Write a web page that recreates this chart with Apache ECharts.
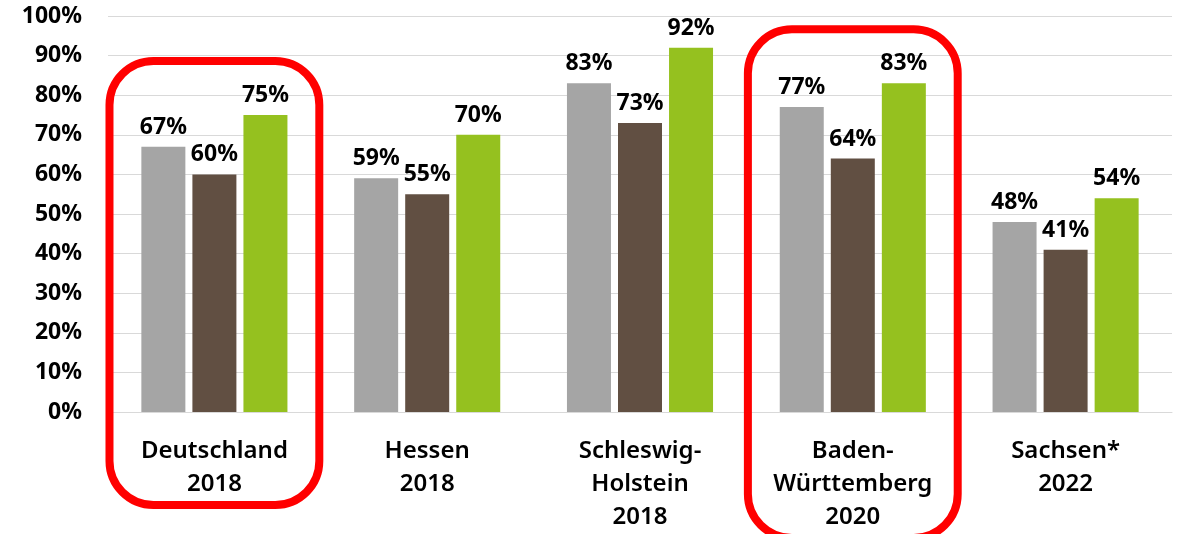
<!DOCTYPE html>
<html>
<head>
<meta charset="utf-8">
<script src="https://cdn.jsdelivr.net/npm/echarts@6/dist/echarts.min.js"></script>
<style>
html,body{margin:0;padding:0;background:#fff;}
#c{width:1179px;height:534px;}
</style>
</head>
<body>
<div id="c"></div>
<script>
const categories = ['Deutschland\n2018', 'Hessen\n2018', 'Schleswig-\nHolstein\n2018', 'Baden-\nWürttemberg\n2020', 'Sachsen*\n2022'];
const seriesGray = [67, 59, 83, 77, 48];
const seriesBrown = [60, 55, 73, 64, 41];
const seriesGreen = [75, 70, 92, 83, 54];
const yTicks = [0, 10, 20, 30, 40, 50, 60, 70, 80, 90, 100];
const highlighted = [0, 3];

const chart = echarts.init(document.getElementById('c'), null, {renderer: 'canvas'});
const labelStyle = {
  show: true, position: 'top', distance: 8,
  formatter: p => p.value + '%',
  fontFamily: 'Noto Sans', fontWeight: 'bold', fontSize: 23, color: '#000'
};
function mk(name, data, color) {
  return {
    name, type: 'bar', data, barWidth: 44, barGap: '16%',
    itemStyle: {color},
    label: labelStyle
  };
}
chart.setOption({
  animation: false,
  grid: {left: 108, right: 7, top: 16, bottom: 115, containLabel: false},
  xAxis: {
    type: 'category', data: categories,
    axisLine: {show: true, lineStyle: {color: '#D9D9D9', width: 1}},
    axisTick: {show: false},
    axisLabel: {
      interval: 0, margin: 23, lineHeight: 33,
      fontFamily: 'Noto Sans', fontWeight: 600, fontSize: 24, color: '#000'
    }
  },
  yAxis: {
    type: 'value', min: yTicks[0], max: yTicks[yTicks.length - 1], interval: 10,
    axisLine: {show: false}, axisTick: {show: false},
    splitLine: {lineStyle: {color: '#D9D9D9', width: 1}},
    axisLabel: {
      margin: 26, formatter: v => v + '%',
      fontFamily: 'Noto Sans', fontWeight: 'bold', fontSize: 23, color: '#000'
    }
  },
  series: [
    mk('A', seriesGray, '#A5A5A5'),
    mk('B', seriesBrown, '#614F42'),
    mk('C', seriesGreen, '#95C11F')
  ]
});

// red rounded frames around highlighted categories
const p0 = chart.convertToPixel({xAxisIndex: 0, yAxisIndex: 0}, [0, 0]);
const p1 = chart.convertToPixel({xAxisIndex: 0, yAxisIndex: 0}, [1, 0]);
const band = p1[0] - p0[0];
const graphics = highlighted.map(i => {
  const maxV = Math.max(seriesGray[i], seriesBrown[i], seriesGreen[i]);
  const c = chart.convertToPixel({xAxisIndex: 0, yAxisIndex: 0}, [i, maxV]);
  const base = chart.convertToPixel({xAxisIndex: 0, yAxisIndex: 0}, [i, 0]);
  const lines = categories[i].split('\n').length;
  const half = band * 0.493;
  const top = c[1] - 54;
  const bottom = base[1] + 93 + (lines - 2) * 33;
  return {
    type: 'rect', z: 100,
    shape: {x: c[0] - half, y: top, width: half * 2, height: bottom - top, r: 44},
    style: {fill: 'none', stroke: '#FF0000', lineWidth: 8}
  };
});
chart.setOption({graphic: graphics});
</script>
</body>
</html>
